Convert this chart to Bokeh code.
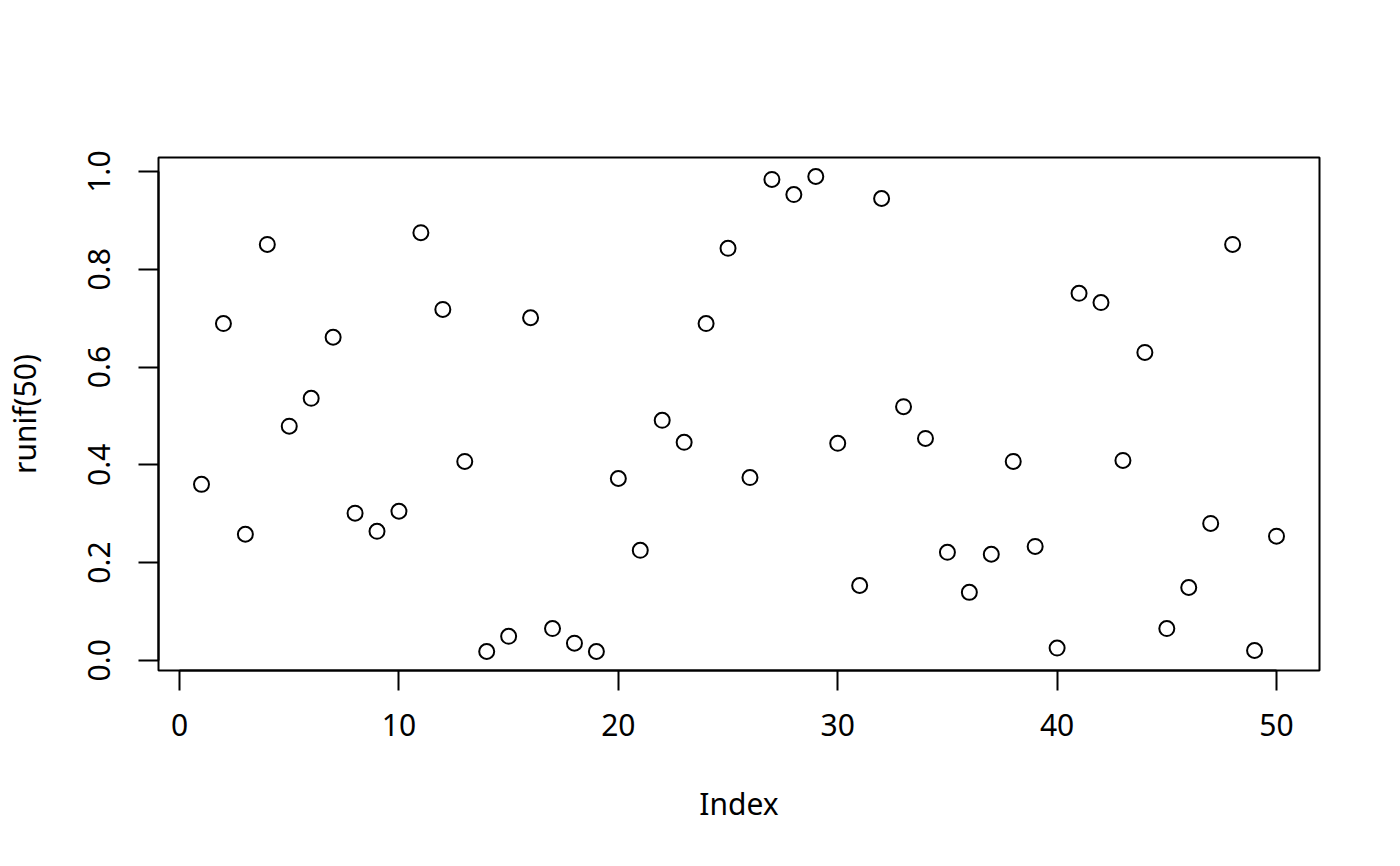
from bokeh.plotting import figure
from bokeh.models import Range1d, FixedTicker, NumeralTickFormatter
from bokeh.embed import file_html
from bokeh.resources import INLINE

index = list(range(1, 51))
values = [0.360, 0.689, 0.258, 0.851, 0.479, 0.536, 0.661, 0.301, 0.264, 0.305,
          0.875, 0.718, 0.407, 0.018, 0.049, 0.701, 0.065, 0.035, 0.018, 0.372,
          0.225, 0.491, 0.446, 0.689, 0.843, 0.374, 0.984, 0.953, 0.990, 0.444,
          0.153, 0.945, 0.519, 0.454, 0.221, 0.139, 0.217, 0.407, 0.233, 0.025,
          0.751, 0.732, 0.409, 0.630, 0.065, 0.149, 0.280, 0.851, 0.020, 0.254]
x_ticks = [0, 10, 20, 30, 40, 50]
y_ticks = [0.0, 0.2, 0.4, 0.6, 0.8, 1.0]

FONT = "Noto Sans"
FS = "30px"

xmin, xmax = min(index), max(index)
ymin, ymax = min(values), max(values)
xpad = (xmax - xmin) * 0.04
ypad = (ymax - ymin) * 0.04

p = figure(width=1384, height=850, output_backend="svg", toolbar_location=None,
           x_range=Range1d(xmin - xpad, xmax + xpad),
           y_range=Range1d(ymin - ypad, ymax + ypad),
           min_border_left=156, min_border_right=65,
           min_border_top=157, min_border_bottom=180)

p.scatter(index, values, marker="circle", size=15, fill_color=None,
          line_color="black", line_width=2)

p.xgrid.visible = False
p.ygrid.visible = False
p.outline_line_color = "black"
p.outline_line_width = 2
p.background_fill_color = "white"
p.border_fill_color = "white"

for ax in (p.xaxis[0], p.yaxis[0]):
    ax.axis_line_color = "black"
    ax.axis_line_width = 2
    ax.major_tick_line_color = "black"
    ax.major_tick_line_width = 2
    ax.major_tick_out = 20
    ax.major_tick_in = 0
    ax.minor_tick_line_color = None
    ax.major_label_text_font = FONT
    ax.major_label_text_font_size = FS
    ax.major_label_text_color = "black"
    ax.axis_label_text_font = FONT
    ax.axis_label_text_font_size = FS
    ax.axis_label_text_font_style = "normal"
    ax.axis_label_text_color = "black"

p.xaxis[0].ticker = FixedTicker(ticks=x_ticks)
p.yaxis[0].ticker = FixedTicker(ticks=y_ticks)
p.yaxis[0].formatter = NumeralTickFormatter(format="0.0")
p.xaxis[0].bounds = (x_ticks[0], x_ticks[-1])
p.yaxis[0].bounds = (y_ticks[0], y_ticks[-1])
p.yaxis[0].major_label_orientation = "vertical"
p.xaxis[0].axis_label = "Index"
p.yaxis[0].axis_label = "runif(50)"
p.xaxis[0].major_label_standoff = 23
p.xaxis[0].axis_label_standoff = 44
p.yaxis[0].major_label_standoff = 28
p.yaxis[0].axis_label_standoff = 41

open("out.html", "w").write(file_html(p, INLINE))
